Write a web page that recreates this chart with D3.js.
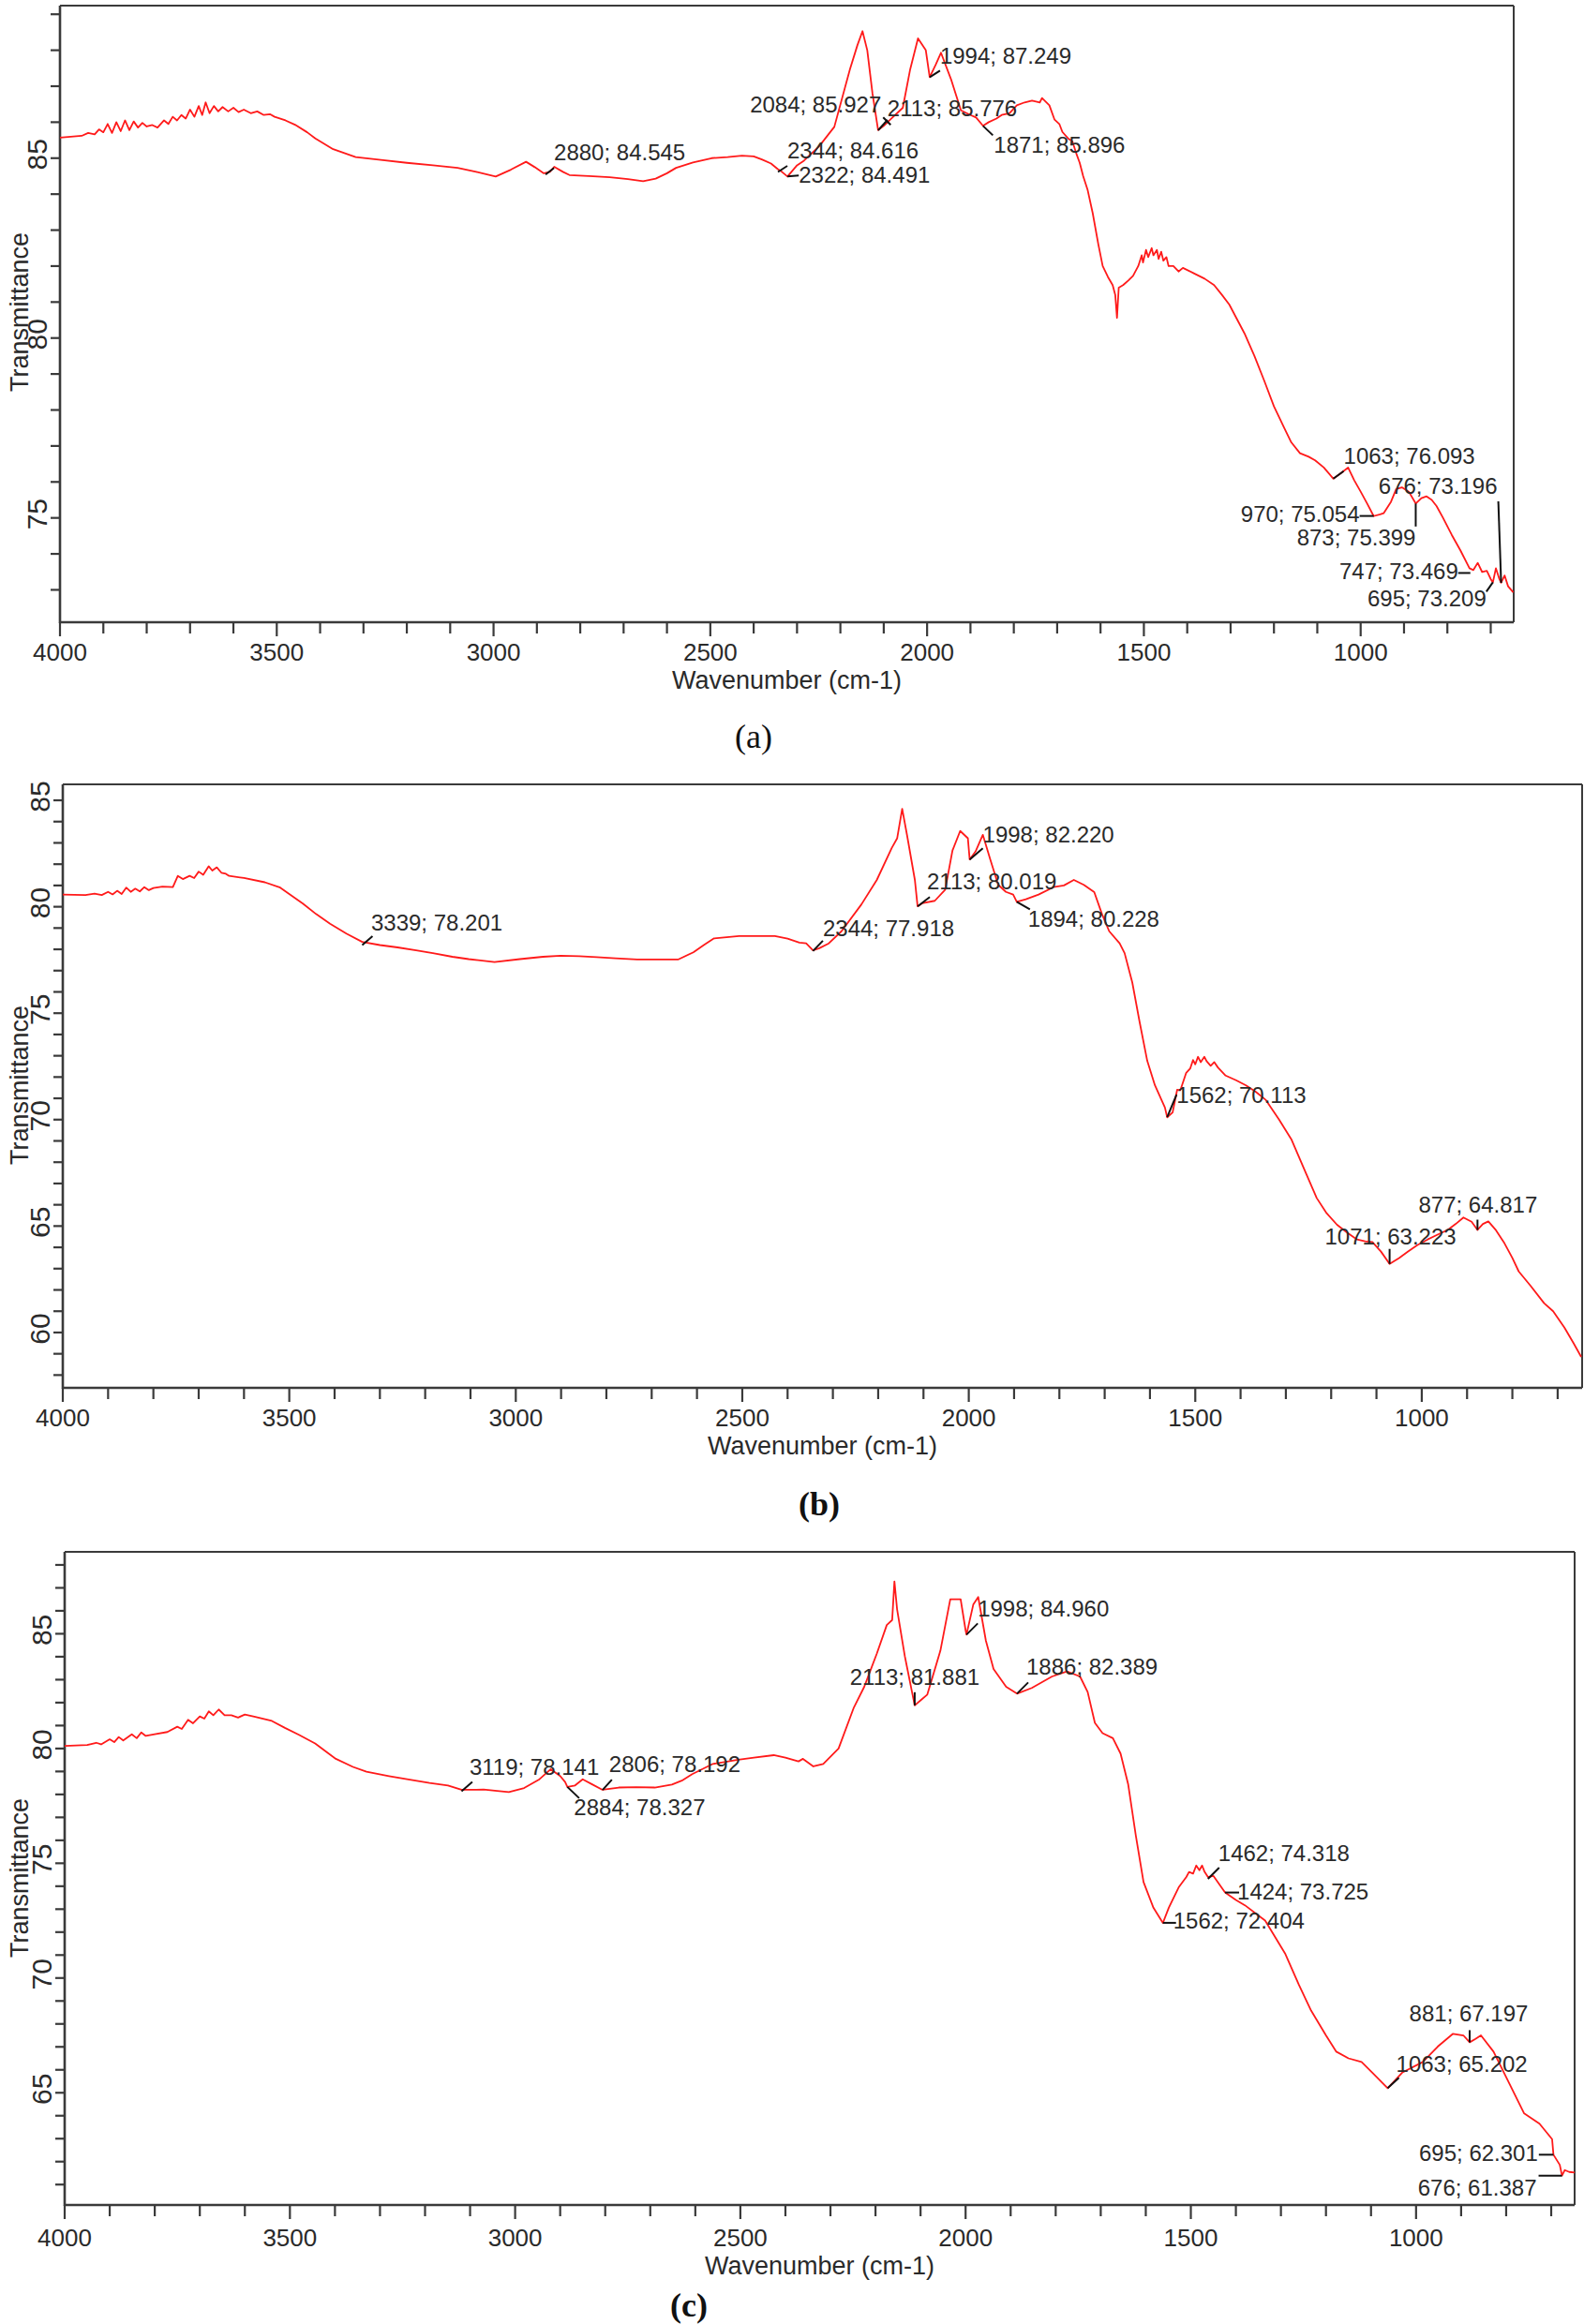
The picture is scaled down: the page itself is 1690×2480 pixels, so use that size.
<!DOCTYPE html>
<html><head><meta charset="utf-8">
<script src="https://cdn.jsdelivr.net/npm/d3@7"></script>
<style>body{margin:0;background:#fff}svg{display:block}</style>
</head><body>
<svg id="chart" width="1690" height="2480"></svg>
<script>
// ---------- DATA ----------
const xTickLabels = [4000, 3500, 3000, 2500, 2000, 1500, 1000];
const xTitle = "Wavenumber (cm-1)";
const yTitle = "Transmittance";
const panelLabels = ["(a)", "(b)", "(c)"];

const aYTickLabels = [75, 80, 85];
const bYTickLabels = [60, 65, 70, 75, 80, 85];
const cYTickLabels = [65, 70, 75, 80, 85];

// spectra: [wavenumber, transmittance]
const aSpectrum = [[4000,85.57],[3950,85.62],[3935,85.70],[3920,85.66],[3910,85.80],[3900,85.72],[3890,85.95],[3880,85.70],[3870,86.00],[3860,85.75],[3850,86.05],[3840,85.78],[3830,86.02],[3820,85.85],[3810,85.98],[3800,85.88],[3787,85.92],[3775,85.85],[3760,86.05],[3750,85.95],[3740,86.15],[3730,86.05],[3720,86.20],[3710,86.10],[3700,86.35],[3690,86.15],[3680,86.45],[3672,86.20],[3664,86.55],[3655,86.25],[3645,86.45],[3635,86.30],[3625,86.42],[3612,86.30],[3600,86.40],[3588,86.28],[3576,86.35],[3560,86.25],[3545,86.30],[3530,86.20],[3515,86.22],[3505,86.15],[3480,86.05],[3458,85.93],[3430,85.72],[3411,85.55],[3370,85.25],[3318,85.03],[3260,84.95],[3200,84.87],[3140,84.80],[3083,84.73],[3040,84.62],[2995,84.49],[2960,84.68],[2925,84.90],[2905,84.75],[2884,84.58],[2870,84.62],[2860,84.76],[2840,84.62],[2825,84.53],[2780,84.50],[2732,84.47],[2690,84.42],[2655,84.36],[2626,84.43],[2600,84.58],[2579,84.73],[2540,84.88],[2497,85.00],[2460,85.03],[2427,85.07],[2400,85.05],[2380,84.96],[2360,84.85],[2345,84.70],[2335,84.62],[2322,84.49],[2300,84.80],[2284,84.93],[2249,85.33],[2214,85.87],[2178,87.47],[2161,88.13],[2149,88.53],[2138,88.00],[2126,86.80],[2113,85.78],[2100,85.90],[2085,86.07],[2056,86.40],[2039,87.47],[2021,88.33],[2003,88.00],[1994,87.25],[1980,87.60],[1968,87.93],[1945,87.20],[1922,86.33],[1900,86.20],[1887,86.13],[1871,85.90],[1858,86.00],[1840,86.10],[1828,86.20],[1810,86.25],[1793,86.47],[1775,86.55],[1758,86.60],[1740,86.55],[1735,86.67],[1718,86.47],[1706,86.07],[1695,85.95],[1688,85.73],[1675,85.55],[1665,85.47],[1655,85.10],[1648,84.87],[1640,84.50],[1630,84.13],[1618,83.47],[1605,82.60],[1595,82.00],[1583,81.70],[1572,81.47],[1566,81.20],[1562,80.56],[1558,81.40],[1548,81.47],[1536,81.60],[1525,81.73],[1513,82.00],[1505,82.30],[1502,82.10],[1495,82.45],[1490,82.25],[1482,82.50],[1478,82.30],[1470,82.45],[1466,82.20],[1460,82.40],[1455,82.15],[1448,82.25],[1443,82.00],[1432,82.00],[1420,81.85],[1410,81.95],[1385,81.80],[1360,81.65],[1338,81.47],[1320,81.20],[1303,80.93],[1268,80.13],[1245,79.50],[1222,78.80],[1200,78.10],[1175,77.47],[1160,77.10],[1140,76.80],[1120,76.70],[1105,76.60],[1085,76.40],[1063,76.09],[1045,76.25],[1029,76.40],[1015,76.05],[1000,75.73],[985,75.40],[970,75.05],[955,75.10],[947,75.13],[930,75.45],[918,75.80],[905,75.85],[889,75.73],[873,75.40],[860,75.55],[848,75.60],[836,75.50],[825,75.33],[810,75.00],[790,74.53],[770,74.10],[749,73.60],[740,73.55],[730,73.75],[720,73.50],[709,73.53],[700,73.30],[695,73.21],[688,73.60],[680,73.30],[676,73.20],[668,73.40],[660,73.10],[648,72.93]];
const aPeakWn = [2880, 2084, 2113, 1994, 1871, 2344, 2322, 1063, 970, 676, 873, 747, 695];
const aPeakT = [84.545, 85.927, 85.776, 87.249, 85.896, 84.616, 84.491, 76.093, 75.054, 73.196, 75.399, 73.469, 73.209];

const bSpectrum = [[4000,80.57],[3950,80.55],[3930,80.62],[3914,80.55],[3900,80.70],[3890,80.58],[3880,80.75],[3870,80.60],[3860,80.90],[3850,80.70],[3840,80.85],[3830,80.72],[3820,80.92],[3810,80.78],[3800,80.88],[3780,80.95],[3757,80.92],[3746,81.45],[3735,81.30],[3720,81.45],[3710,81.35],[3700,81.65],[3690,81.50],[3678,81.90],[3670,81.70],[3660,81.85],[3650,81.60],[3640,81.55],[3633,81.45],[3600,81.35],[3554,81.15],[3520,80.90],[3498,80.57],[3470,80.15],[3441,79.66],[3410,79.20],[3374,78.74],[3339,78.35],[3300,78.20],[3261,78.09],[3220,77.95],[3183,77.82],[3140,77.65],[3104,77.54],[3047,77.40],[2991,77.54],[2940,77.65],[2901,77.70],[2860,77.68],[2822,77.63],[2780,77.58],[2732,77.52],[2690,77.52],[2642,77.52],[2608,77.86],[2585,78.20],[2563,78.51],[2507,78.62],[2470,78.62],[2428,78.62],[2400,78.50],[2374,78.32],[2359,78.28],[2344,77.95],[2330,78.05],[2309,78.28],[2281,78.85],[2237,80.11],[2203,81.26],[2170,82.76],[2158,83.22],[2147,84.60],[2136,83.33],[2119,81.26],[2113,80.02],[2103,80.16],[2075,80.28],[2052,80.80],[2036,82.64],[2019,83.56],[2002,83.22],[1998,82.22],[1985,82.60],[1969,83.38],[1952,82.18],[1935,81.03],[1918,80.70],[1902,80.57],[1894,80.23],[1874,80.35],[1846,80.57],[1813,80.92],[1790,81.00],[1768,81.26],[1746,81.03],[1723,80.69],[1706,79.66],[1690,78.85],[1667,78.28],[1656,77.82],[1639,76.44],[1623,74.60],[1606,72.76],[1589,71.61],[1567,70.57],[1562,70.11],[1550,70.34],[1540,71.40],[1533,71.38],[1520,72.20],[1511,72.41],[1505,72.80],[1500,72.60],[1494,72.95],[1488,72.70],[1480,72.95],[1475,72.75],[1466,72.53],[1458,72.70],[1450,72.45],[1433,72.07],[1410,71.85],[1388,71.61],[1366,71.30],[1344,70.92],[1315,70.00],[1288,69.08],[1260,67.70],[1232,66.32],[1210,65.60],[1187,65.06],[1165,64.70],[1143,64.37],[1125,64.28],[1109,64.25],[1090,63.80],[1071,63.22],[1050,63.50],[1031,63.79],[1010,64.10],[987,64.37],[965,64.60],[942,64.83],[925,65.10],[908,65.40],[890,65.20],[877,64.82],[865,65.10],[853,65.22],[836,64.80],[819,64.25],[800,63.50],[786,62.87],[760,62.20],[730,61.38],[710,61.00],[685,60.23],[665,59.50],[648,58.85]];
const bPeakWn = [3339, 2344, 2113, 1998, 1894, 1562, 1071, 877];
const bPeakT = [78.201, 77.918, 80.019, 82.220, 80.228, 70.113, 63.223, 64.817];

const cSpectrum = [[4000,80.11],[3950,80.15],[3930,80.25],[3919,80.18],[3900,80.40],[3890,80.28],[3880,80.50],[3870,80.35],[3851,80.62],[3840,80.45],[3830,80.70],[3820,80.55],[3800,80.62],[3772,80.72],[3750,80.95],[3740,80.85],[3726,81.25],[3715,81.10],[3700,81.40],[3690,81.30],[3680,81.62],[3670,81.45],[3658,81.70],[3645,81.45],[3630,81.45],[3615,81.35],[3600,81.48],[3579,81.39],[3540,81.20],[3511,80.90],[3480,80.60],[3444,80.22],[3398,79.55],[3360,79.20],[3330,78.99],[3280,78.80],[3240,78.66],[3190,78.50],[3149,78.39],[3119,78.20],[3070,78.21],[3040,78.15],[3014,78.10],[2980,78.28],[2946,78.66],[2921,79.10],[2900,78.80],[2889,78.54],[2884,78.33],[2867,78.39],[2850,78.66],[2830,78.45],[2806,78.20],[2770,78.30],[2731,78.32],[2690,78.30],[2652,78.43],[2630,78.60],[2607,78.88],[2561,79.33],[2505,79.51],[2470,79.60],[2426,79.71],[2400,79.60],[2371,79.44],[2361,79.55],[2338,79.22],[2316,79.33],[2282,80.00],[2248,81.79],[2225,82.69],[2197,84.14],[2175,85.38],[2163,85.60],[2158,87.28],[2152,86.05],[2135,84.03],[2113,81.88],[2100,82.10],[2085,82.35],[2056,84.26],[2034,86.50],[2011,86.50],[2000,85.15],[1998,84.96],[1983,86.27],[1972,86.60],[1955,84.70],[1938,83.47],[1910,82.69],[1886,82.39],[1853,82.64],[1808,83.14],[1775,83.36],[1746,83.14],[1729,82.46],[1713,81.12],[1696,80.67],[1673,80.45],[1656,79.78],[1639,78.43],[1622,76.19],[1605,74.18],[1583,73.06],[1562,72.40],[1549,73.06],[1527,73.95],[1510,74.40],[1504,74.62],[1495,74.55],[1488,74.90],[1481,74.70],[1475,74.90],[1470,74.65],[1462,74.40],[1450,74.45],[1424,73.73],[1400,73.40],[1380,73.17],[1335,72.50],[1290,71.04],[1260,69.70],[1233,68.58],[1200,67.50],[1177,66.79],[1150,66.50],[1121,66.34],[1098,65.89],[1063,65.20],[1030,65.89],[985,66.34],[952,67.01],[918,67.57],[895,67.50],[881,67.20],[868,67.35],[856,67.50],[828,66.79],[794,65.44],[760,64.10],[726,63.65],[698,62.98],[695,62.30],[681,61.86],[676,61.39],[670,61.63],[660,61.55],[648,61.52]];
const cPeakWn = [3119, 2806, 2884, 2113, 1998, 1886, 1462, 1424, 1562, 881, 1063, 695, 676];
const cPeakT = [78.141, 78.192, 78.327, 81.881, 84.960, 82.389, 74.318, 73.725, 72.404, 67.197, 65.202, 62.301, 61.387];

// ---------- LAYOUT (positions / offsets, not data) ----------
// annotation layout: [label dx, label dy, anchor, leader end dx, leader end dy] relative to the point
const aAnnLayout = [[9,-15,'start',9,-7],[-10,-13,'end',-8,-8],[10,-15,'start',10,-11],[11,-14,'start',11,-7],[11.5,29,'start',10.5,10],[10,-15,'start',10,-6.5],[12,7,'start',12,-1],[11,-16,'start',11,-8],[-15,6,'end',-15,0],[-4,-95,'end',-3,-87],[0,44.5,'end',0,24.5],[-13,6.4,'end',-13,0],[-7,26,'end',-7,10]];
const bAnnLayout = [[9.5,-15,'start',11,-9.5],[10.6,-16,'start',10.6,-11],[10,-18,'start',13,-10],[14,-18,'start',14,-12],[12,27,'start',14,8],[10,-15.6,'start',10,-24],[1,-21,'middle',0,-16],[0.5,-18.6,'middle',0,-11]];
const cAnnLayout = [[8.5,-17,'start',11.5,-10],[7,-19,'start',10,-11],[7,30,'start',12.6,12],[0,-22,'middle',0,-14],[12,-19,'start',12,-12],[10,-20,'start',12,-12],[11,-19,'start',12,-12],[13,7.4,'start',15,0],[11,6,'start',14,0],[-1,-22,'middle',0,-13],[9,-17,'start',12,-11],[-16.6,7,'end',-15.6,0],[-27,21,'end',-25,0]];

const panels = [
  {spec:aSpectrum, pw:aPeakWn, pt:aPeakT, ann:aAnnLayout, yTicks:aYTickLabels, label:panelLabels[0], bold:false,
   xDomain:[4000,647], yDomain:[72.1,89.24], x0:64, x1:1615, y0:6, y1:664, labelX:804, labelY:798, yTitleY:333, tickDy:41, titleDy:71},
  {spec:bSpectrum, pw:bPeakWn, pt:bPeakT, ann:bAnnLayout, yTicks:bYTickLabels, label:panelLabels[1], bold:true,
   xDomain:[4000,646], yDomain:[57.40,85.75], x0:67, x1:1688, y0:837, y1:1481, labelX:874, labelY:1617, yTitleY:1158, tickDy:41, titleDy:71},
  {spec:cSpectrum, pw:cPeakWn, pt:cPeakT, ann:cAnnLayout, yTicks:cYTickLabels, label:panelLabels[2], bold:true,
   xDomain:[4000,648], yDomain:[60.11,88.57], x0:69, x1:1680, y0:1656, y1:2353, labelX:735, labelY:2472, yTitleY:2004, tickDy:44, titleDy:74}
];

const svg = d3.select("#chart");
const FONT = "'Liberation Sans', Arial, sans-serif";
const AXIS = "#3a3a3a";
const TXT = "#2a2a2a";

panels.forEach(p => {
  const g = svg.append("g");
  const x = d3.scaleLinear().domain(p.xDomain).range([p.x0, p.x1]);
  const y = d3.scaleLinear().domain(p.yDomain).range([p.y1, p.y0]);

  // x ticks (every 100), outward
  const xt = d3.range(4000, p.xDomain[1] - 1, -100);
  g.selectAll(null).data(xt).join("line")
    .attr("x1", d => x(d)).attr("x2", d => x(d))
    .attr("y1", p.y1).attr("y2", d => p.y1 + (d % 500 === 0 ? 15 : 12))
    .attr("stroke", AXIS).attr("stroke-width", 2.2);
  g.selectAll(null).data(xTickLabels).join("text")
    .attr("x", d => x(d)).attr("y", p.y1 + p.tickDy)
    .attr("text-anchor", "middle").attr("font-family", FONT).attr("font-size", 26)
    .attr("fill", TXT).text(d => d);

  // y ticks (every 1), outward
  const yt = d3.range(Math.ceil(p.yDomain[0]), Math.floor(p.yDomain[1]) + 1, 1);
  g.selectAll(null).data(yt).join("line")
    .attr("x1", p.x0 - 10).attr("x2", p.x0)
    .attr("y1", d => y(d)).attr("y2", d => y(d))
    .attr("stroke", AXIS).attr("stroke-width", 2.2);
  g.selectAll(null).data(p.yTicks).join("text")
    .attr("transform", d => `translate(${p.x0 - 14},${y(d) - 4}) rotate(-90)`)
    .attr("text-anchor", "middle").attr("font-family", FONT).attr("font-size", 30)
    .attr("fill", TXT).text(d => d);

  // frame
  g.append("line").attr("x1", p.x0).attr("x2", p.x1).attr("y1", p.y0).attr("y2", p.y0).attr("stroke", AXIS).attr("stroke-width", 2);
  g.append("line").attr("x1", p.x1).attr("x2", p.x1).attr("y1", p.y0).attr("y2", p.y1).attr("stroke", AXIS).attr("stroke-width", 2);
  g.append("line").attr("x1", p.x0).attr("x2", p.x0).attr("y1", p.y0).attr("y2", p.y1 + 1).attr("stroke", AXIS).attr("stroke-width", 2.6);
  g.append("line").attr("x1", p.x0).attr("x2", p.x1).attr("y1", p.y1).attr("y2", p.y1).attr("stroke", AXIS).attr("stroke-width", 2.6);

  // spectrum
  g.append("path").datum(p.spec)
    .attr("d", d3.line().x(d => x(d[0])).y(d => y(d[1])))
    .attr("fill", "none").attr("stroke", "#ff1a1a").attr("stroke-width", 1.8).attr("stroke-linejoin", "round");

  // annotations
  p.pw.forEach((w, i) => {
    const px = x(w), py = y(p.pt[i]);
    const L = p.ann[i];
    g.append("line").attr("x1", px).attr("y1", py).attr("x2", px + L[3]).attr("y2", py + L[4])
      .attr("stroke", "#111").attr("stroke-width", 2);
    g.append("text").attr("x", px + L[0]).attr("y", py + L[1]).attr("text-anchor", L[2])
      .attr("font-family", FONT).attr("font-size", 24).attr("fill", TXT)
      .text(`${w}; ${p.pt[i].toFixed(3)}`);
  });

  // titles
  g.append("text").attr("x", (p.x0 + p.x1) / 2).attr("y", p.y1 + p.titleDy)
    .attr("text-anchor", "middle").attr("font-family", FONT).attr("font-size", 27).attr("fill", TXT).text(xTitle);
  g.append("text").attr("transform", `translate(30,${p.yTitleY}) rotate(-90)`)
    .attr("text-anchor", "middle").attr("font-family", FONT).attr("font-size", 27).attr("fill", TXT).text(yTitle);
  g.append("text").attr("x", p.labelX).attr("y", p.labelY).attr("text-anchor", "middle")
    .attr("font-family", "'Liberation Serif', 'Times New Roman', serif").attr("font-size", 36)
    .attr("font-weight", p.bold ? "bold" : "normal").attr("fill", "#111").text(p.label);
});
</script>
</body></html>
